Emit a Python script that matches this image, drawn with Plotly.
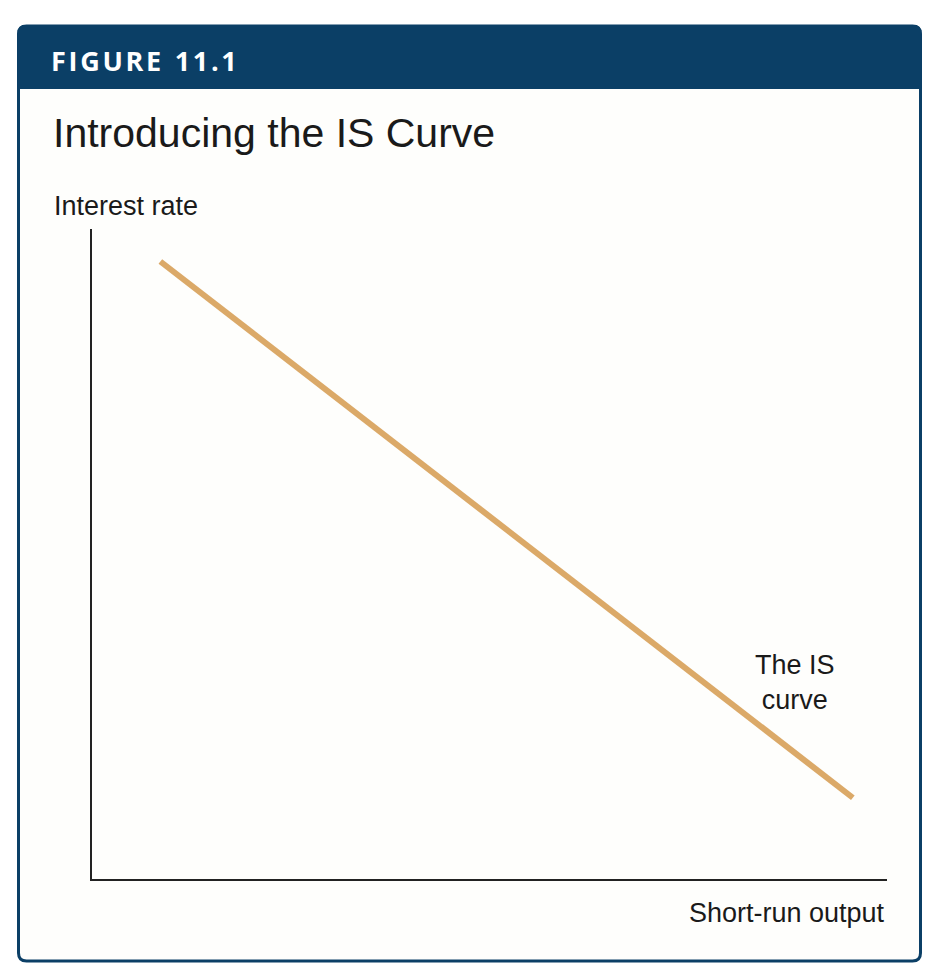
import plotly.graph_objects as go

# IS curve end points (axis units 0-10)
is_x = [0.86, 9.57]
is_y = [9.50, 1.25]

W, H = 922, 958   # page body has an 8px margin
OFF = 8


def px(x):
    return (x - OFF) / W


def py(y):
    return 1 - (y - OFF) / H


NAVY = "#0b3f66"
LINE = "#dba968"

# box corners in screen pixels
bx0, bx1, by0, by1, hb = 18.5, 920.5, 26, 961, 89
r = 8


def rounded_box(x0, x1, y0, y1, rad, top_only=False):
    p = f"M {px(x0)},{py(y0 + rad)} Q {px(x0)},{py(y0)} {px(x0 + rad)},{py(y0)} "
    p += f"L {px(x1 - rad)},{py(y0)} Q {px(x1)},{py(y0)} {px(x1)},{py(y0 + rad)} "
    if top_only:
        p += f"L {px(x1)},{py(y1)} L {px(x0)},{py(y1)} Z"
    else:
        p += f"L {px(x1)},{py(y1 - rad)} Q {px(x1)},{py(y1)} {px(x1 - rad)},{py(y1)} "
        p += f"L {px(x0 + rad)},{py(y1)} Q {px(x0)},{py(y1)} {px(x0)},{py(y1 - rad)} Z"
    return p


fig = go.Figure()
fig.add_trace(go.Scatter(x=is_x, y=is_y, mode="lines",
                         line=dict(color=LINE, width=6), hoverinfo="skip",
                         showlegend=False))

shapes = [
    dict(type="path", xref="paper", yref="paper", layer="below",
         path=rounded_box(bx0, bx1, by0, by1, r),
         fillcolor="#fefefc", line=dict(color=NAVY, width=3)),
    dict(type="path", xref="paper", yref="paper", layer="below",
         path=rounded_box(bx0 - 1, bx1 + 1, by0 - 1, hb, r, top_only=True),
         fillcolor=NAVY, line=dict(width=0)),
]

# spaced-out header label
hs = "&#8202;"
header = hs.join("FIGURE") + "&#8194;" + hs.join("11.1")

font = "Liberation Sans, Arial, sans-serif"
annotations = [
    dict(text=header,
         x=px(49), y=py(60), xanchor="left", yanchor="middle",
         font=dict(family="Open Sans, DejaVu Sans, sans-serif", size=27,
                   color="white", weight="bold")),
    dict(text="Introducing the IS Curve", x=px(51), y=py(133),
         xanchor="left", yanchor="middle",
         font=dict(family=font, size=41, color="#1a1a1a")),
    dict(text="Interest rate", x=px(52), y=py(206),
         xanchor="left", yanchor="middle",
         font=dict(family=font, size=27, color="#1a1a1a")),
    dict(text="Short-run output", x=px(887), y=py(913),
         xanchor="right", yanchor="middle",
         font=dict(family=font, size=27, color="#1a1a1a")),
    dict(text="The IS<br>curve", x=px(795), y=py(682),
         xanchor="center", yanchor="middle", align="center",
         font=dict(family=font, size=27, color="#1a1a1a")),
]
for a in annotations:
    a.update(xref="paper", yref="paper", showarrow=False)

fig.update_layout(
    width=W, height=H,
    margin=dict(l=0, r=0, t=0, b=0),
    paper_bgcolor="white",
    plot_bgcolor="rgba(0,0,0,0)",
    shapes=shapes,
    annotations=annotations,
    xaxis=dict(domain=[px(92), px(887)], range=[0, 10], showgrid=False,
               zeroline=False, showticklabels=False, ticks="",
               showline=True, linecolor="#222222", linewidth=1.5,
               fixedrange=True),
    yaxis=dict(domain=[py(879), py(229)], range=[0, 10], showgrid=False,
               zeroline=False, showticklabels=False, ticks="",
               showline=True, linecolor="#222222", linewidth=1.5,
               fixedrange=True),
)

fig.write_html("out.html", config=dict(displayModeBar=False))
